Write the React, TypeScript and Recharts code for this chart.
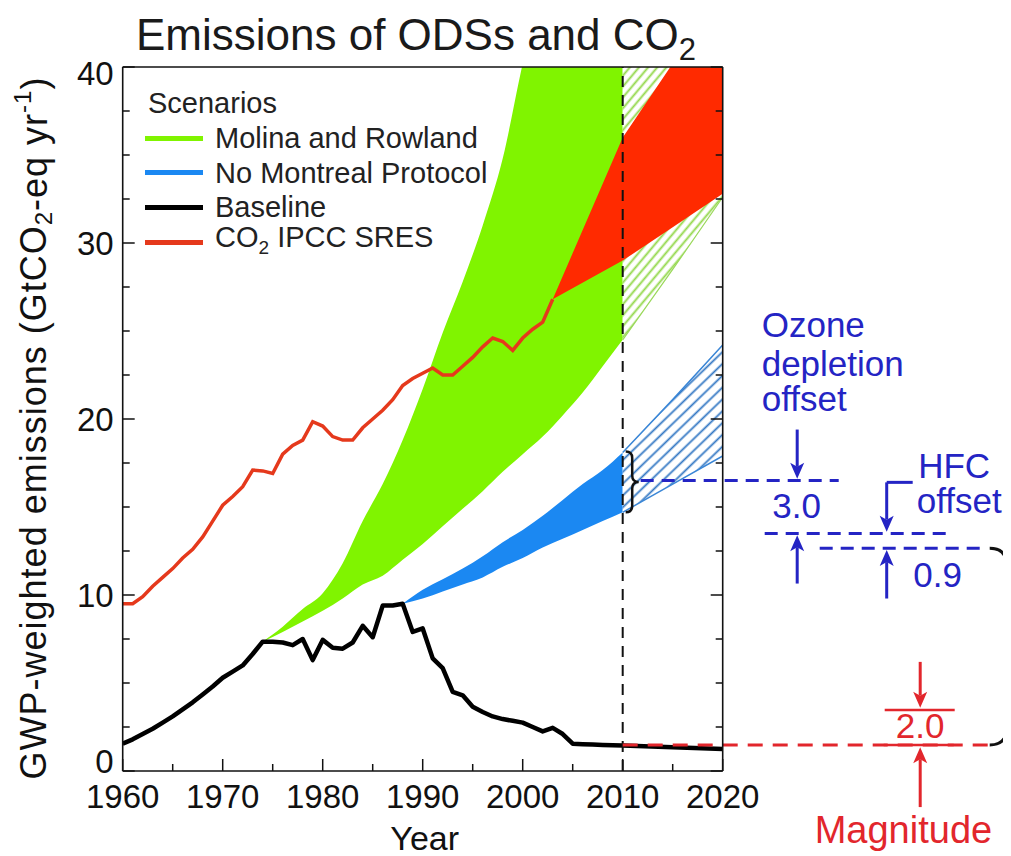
import React from "react";
import {
  ComposedChart,
  Area,
  Line,
  XAxis,
  YAxis,
  ReferenceLine,
  ReferenceDot,
  Legend,
} from "recharts";

const FONT = '"Liberation Sans", Arial, Helvetica, sans-serif';
const GREEN = "#80f400";
const BLUE = "#1b88f2";
const RED_FILL = "#ff2a00";
const RED_LINE = "#e5391c";
const ANNOT_BLUE = "#2424c4";
const ANNOT_RED = "#e2262c";

// baseline ODS emissions, GtCO2-eq per year
const baselineYears = [
  1960, 1961, 1962, 1963, 1964, 1965, 1966, 1967, 1968, 1969,
  1970, 1971, 1972, 1973, 1974, 1975, 1976, 1977, 1978, 1979,
  1980, 1981, 1982, 1983, 1984, 1985, 1986, 1987, 1988, 1989,
  1990, 1991, 1992, 1993, 1994, 1995, 1996, 1997, 1998, 1999,
  2000, 2001, 2002, 2003, 2004, 2005, 2006, 2007, 2008, 2009,
  2010, 2020,
];
const baselineValues = [
  1.55, 1.8, 2.1, 2.4, 2.75, 3.1, 3.5, 3.9, 4.35, 4.8,
  5.3, 5.65, 6.0, 6.65, 7.35, 7.35, 7.3, 7.15, 7.5, 6.3,
  7.45, 7.0, 6.95, 7.3, 8.25, 7.6, 9.4, 9.4, 9.5, 7.9,
  8.1, 6.4, 5.85, 4.5, 4.3, 3.65, 3.35, 3.1, 2.95, 2.85,
  2.75, 2.5, 2.25, 2.45, 2.1, 1.55, 1.52, 1.5, 1.48, 1.46,
  1.45, 1.25,
];

// CO2 emissions (line part)
const co2Years = [
  1960, 1961, 1962, 1963, 1964, 1965, 1966, 1967, 1968, 1969,
  1970, 1971, 1972, 1973, 1974, 1975, 1976, 1977, 1978, 1979,
  1980, 1981, 1982, 1983, 1984, 1985, 1986, 1987, 1988, 1989,
  1990, 1991, 1992, 1993, 1994, 1995, 1996, 1997, 1998, 1999,
  2000, 2001, 2002, 2003,
];
const co2Values = [
  9.5, 9.5, 9.9, 10.5, 11.0, 11.5, 12.1, 12.6, 13.3, 14.2,
  15.1, 15.6, 16.15, 17.1, 17.05, 16.9, 18.0, 18.5, 18.8, 19.85,
  19.6, 19.0, 18.8, 18.8, 19.5, 20.0, 20.5, 21.1, 21.9, 22.3,
  22.6, 22.9, 22.5, 22.5, 23.0, 23.5, 24.1, 24.6, 24.4, 23.9,
  24.6, 25.1, 25.5, 26.8,
];

// IPCC SRES CO2 range
const sresYears = [2003, 2010, 2015, 2020];
const sresLow = [26.8, 29.0, 30.9, 32.8];
const sresHigh = [26.8, 36.0, 40.2, 44.5];

// Molina and Rowland scenario range
const molinaYears = [
  1974, 1976, 1978, 1980, 1982, 1984, 1986, 1988, 1990, 1992,
  1994, 1996, 1998, 2000, 2002, 2004, 2006, 2008, 2010,
];
const molinaLow = [
  7.35, 7.9, 8.5, 9.1, 9.8, 10.6, 11.1, 12.0, 12.9, 13.9,
  14.9, 15.9, 17.0, 18.0, 19.0, 20.2, 21.5, 23.0, 24.5,
];
const molinaHigh = [
  7.35, 8.2, 9.2, 10.1, 11.8, 14.2, 16.3, 18.8, 21.7, 24.9,
  27.8, 31.0, 34.8, 40.2, 45, 50, 56, 62, 68,
];

// No Montreal Protocol scenario range
const noMpYears = [1988, 1990, 1992, 1994, 1996, 1998, 2000, 2002, 2004, 2006, 2008, 2010];
const noMpLow = [9.5, 9.8, 10.2, 10.6, 11.0, 11.6, 12.1, 12.7, 13.2, 13.7, 14.2, 14.7];
const noMpHigh = [9.5, 10.3, 10.9, 11.5, 12.2, 13.0, 13.7, 14.5, 15.4, 16.3, 17.1, 18.1];

// projections after 2010 (hatched)
const projYears = [2010, 2015, 2020];
const molinaProjLow = [24.5, 28.5, 32.6];
const molinaProjHigh = [68, 80, 92];
const noMpProjLow = [14.7, 16.3, 17.9];
const noMpProjHigh = [18.1, 21.1, 24.2];

const xTicks = [1960, 1965, 1970, 1975, 1980, 1985, 1990, 1995, 2000, 2005, 2010, 2015, 2020];
const yTicks = [0, 2.5, 5, 7.5, 10, 12.5, 15, 17.5, 20, 22.5, 25, 27.5, 30, 32.5, 35, 37.5, 40];

const legendItems = [
  { key: "molina", label: "Molina and Rowland", color: GREEN },
  { key: "nomp", label: "No Montreal Protocol", color: BLUE },
  { key: "base", label: "Baseline", color: "#000" },
  { key: "sres", label: "CO2 IPCC SRES", color: RED_LINE },
];

const lineData = (years: number[], values: number[]) =>
  years.map((year, i) => ({ year, value: values[i] }));
const bandData = (years: number[], low: number[], high: number[]) =>
  years.map((year, i) => ({ year, range: [low[i], high[i]] }));

const baselineData = lineData(baselineYears, baselineValues);
const co2Data = lineData(co2Years, co2Values);
const sresData = bandData(sresYears, sresLow, sresHigh);
const molinaData = bandData(molinaYears, molinaLow, molinaHigh);
const noMpData = bandData(noMpYears, noMpLow, noMpHigh);
const molinaProjData = bandData(projYears, molinaProjLow, molinaProjHigh);
const noMpProjData = bandData(projYears, noMpProjLow, noMpProjHigh);

const isMajor = (v: number) => v % 10 === 0;
const tickLen = (v: number) => (isMajor(v) ? 12 : 7);

function BottomTick({ x, y, payload }: any) {
  const v = payload.value;
  return (
    <g>
      <line x1={x} y1={y} x2={x} y2={y - tickLen(v)} stroke="#111" strokeWidth={1.5} />
      {isMajor(v) && (
        <text x={x} y={y + 25} textAnchor="middle" dominantBaseline="central"
          fontSize={33} fontFamily={FONT} fill="#111">{v}</text>
      )}
    </g>
  );
}

function TopTick({ x, y, payload }: any) {
  return <line x1={x} y1={y} x2={x} y2={y + tickLen(payload.value)} stroke="#111" strokeWidth={1.5} />;
}

function LeftTick({ x, y, payload }: any) {
  const v = payload.value;
  const nudge = v === 0 ? -10 : v === 40 ? 6 : 0;
  return (
    <g>
      <line x1={x} y1={y} x2={x + tickLen(v)} y2={y} stroke="#111" strokeWidth={1.5} />
      {isMajor(v) && (
        <text x={x - 9} y={y + nudge} textAnchor="end" dominantBaseline="central"
          fontSize={33} fontFamily={FONT} fill="#111">{v}</text>
      )}
    </g>
  );
}

function RightTick({ x, y, payload }: any) {
  return <line x1={x} y1={y} x2={x - tickLen(payload.value)} y2={y} stroke="#111" strokeWidth={1.5} />;
}

function YLabel(props: any) {
  const vb = props.viewBox || { x: 55, y: 59, width: 60, height: 704 };
  const cx = vb.x - 29;
  const cy = vb.y + vb.height / 2 + 9;
  return (
    <text x={cx} y={cy} transform={`rotate(-90 ${cx} ${cy})`} textAnchor="middle"
      dominantBaseline="central" fontSize={36} letterSpacing={1} fontFamily={FONT} fill="#111">
      GWP-weighted emissions (GtCO
      <tspan dy={9} fontSize={24}>2</tspan>
      <tspan dy={-9}>-eq yr</tspan>
      <tspan dy={-12} fontSize={24}>-1</tspan>
      <tspan dy={12}>)</tspan>
    </text>
  );
}

function XLabel(props: any) {
  const vb = props.viewBox || { x: 115, y: 763, width: 600, height: 60 };
  return (
    <text x={vb.x + vb.width / 2 + 2} y={vb.y + 67} textAnchor="middle" dominantBaseline="central"
      fontSize={34} fontFamily={FONT} fill="#111">Year</text>
  );
}

function LegendBox() {
  return (
    <div style={{ fontFamily: FONT, fontSize: 29, color: "#222", lineHeight: "34.8px" }}>
      <div style={{ height: 34.8, paddingLeft: 3 }}>Scenarios</div>
      {legendItems.map((it) => (
        <div key={it.key} style={{ display: "flex", alignItems: "center", height: 34.8, whiteSpace: "nowrap" }}>
          <span style={{ display: "inline-block", width: 58, height: 5, background: it.color, marginRight: 12 }} />
          {it.key === "sres" ? (
            <span>CO<sub style={{ fontSize: 19 }}>2</sub> IPCC SRES</span>
          ) : (
            it.label
          )}
        </div>
      ))}
    </div>
  );
}

// annotation shapes
const arrow = (color: string) => (p: any) => {
  const { x1, y1, x2, y2 } = p;
  const dir = y2 > y1 ? 1 : -1;
  const base = y2 - dir * 12;
  return (
    <g>
      <line x1={x1} y1={y1} x2={x2} y2={base} stroke={color} strokeWidth={3} />
      <path d={`M${x2},${y2} L${x2 - 7},${base - dir * 4} L${x2},${base} L${x2 + 7},${base - dir * 4} Z`} fill={color} />
    </g>
  );
};

const brace = (w: number, sw: number) => (p: any) => {
  const { x1, y1, y2 } = p;
  const top = Math.min(y1, y2);
  const bot = Math.max(y1, y2);
  const mid = (top + bot) / 2;
  const r = w / 2;
  const d = `M${x1},${top} Q${x1 + r},${top} ${x1 + r},${top + r} L${x1 + r},${mid - r} ` +
    `Q${x1 + r},${mid} ${x1 + w},${mid} Q${x1 + r},${mid} ${x1 + r},${mid + r} ` +
    `L${x1 + r},${bot - r} Q${x1 + r},${bot} ${x1},${bot}`;
  return <path d={d} fill="none" stroke="#111" strokeWidth={sw} />;
};

const label = (text: string, color: string, size: number, anchor = "start") => (p: any) => (
  <text x={p.cx} y={p.cy} fill={color} fontSize={size} fontFamily={FONT} textAnchor={anchor}>{text}</text>
);

const ax = { xAxisId: "b", yAxisId: "l", ifOverflow: "visible" as const };

export default function App() {
  return (
    <div style={{ position: "relative", width: 1003, height: 848, overflow: "hidden", background: "#fff" }}>
      <div style={{ position: "absolute", left: 0, top: 2, width: 816, textAlign: "center",
        fontFamily: FONT, fontSize: 44, lineHeight: "50px", color: "#1a1a1a", zIndex: 2 }}>
        Emissions of ODSs and CO<span style={{ fontSize: 31, position: "relative", top: 10 }}>2</span>
      </div>
      <ComposedChart width={1003} height={848} margin={{ top: 58, right: 287.3, bottom: 25, left: 54.7 }}>
        <defs>
          <pattern id="hatchGreen" patternUnits="userSpaceOnUse" width="7" height="7" patternTransform="rotate(-50)">
            <rect width="7" height="7" fill="#fff" />
            <line x1="0" y1="3.5" x2="7" y2="3.5" stroke="#93d84a" strokeWidth="1.9" />
          </pattern>
          <pattern id="hatchBlue" patternUnits="userSpaceOnUse" width="8.5" height="8.5" patternTransform="rotate(-44)">
            <rect width="8.5" height="8.5" fill="#fff" />
            <line x1="0" y1="4.25" x2="8.5" y2="4.25" stroke="#3478c4" strokeWidth="1.8" />
          </pattern>
        </defs>

        <XAxis xAxisId="b" type="number" dataKey="year" domain={[1960, 2020]} allowDataOverflow
          ticks={xTicks} interval={0} tickSize={0} tickMargin={0} tickLine={false} tick={BottomTick}
          axisLine={{ stroke: "#111", strokeWidth: 1.6 }} height={60} label={XLabel} />
        <XAxis xAxisId="t" orientation="top" type="number" domain={[1960, 2020]} allowDataOverflow
          ticks={xTicks} interval={0} tickSize={0} tickMargin={0} tickLine={false} tick={TopTick}
          axisLine={{ stroke: "#111", strokeWidth: 1.6 }} height={1} />
        <YAxis yAxisId="l" type="number" domain={[0, 40]} allowDataOverflow ticks={yTicks} interval={0}
          tickSize={0} tickMargin={0} tickLine={false} tick={LeftTick}
          axisLine={{ stroke: "#111", strokeWidth: 1.6 }} width={60} label={YLabel} />
        <YAxis yAxisId="r" orientation="right" type="number" domain={[0, 40]} allowDataOverflow ticks={yTicks}
          interval={0} tickSize={0} tickMargin={0} tickLine={false} tick={RightTick}
          axisLine={{ stroke: "#111", strokeWidth: 1.6 }} width={1} />

        <Legend layout="vertical" align="center" verticalAlign="middle" content={LegendBox}
          wrapperStyle={{ left: 137, top: 78, width: "auto", height: "auto" }} />

        <Area xAxisId="b" yAxisId="l" data={molinaData} dataKey="range" type="monotone"
          fill={GREEN} fillOpacity={1} stroke="none" isAnimationActive={false} />
        <Area xAxisId="b" yAxisId="l" data={molinaProjData} dataKey="range" type="linear"
          fill="url(#hatchGreen)" fillOpacity={1} stroke="#9ad85a" strokeWidth={1.2} isAnimationActive={false} />
        <Area xAxisId="b" yAxisId="l" data={sresData} dataKey="range" type="linear"
          fill={RED_FILL} fillOpacity={1} stroke="none" isAnimationActive={false} />
        <Area xAxisId="b" yAxisId="l" data={noMpData} dataKey="range" type="monotone"
          fill={BLUE} fillOpacity={1} stroke="none" isAnimationActive={false} />
        <Area xAxisId="b" yAxisId="l" data={noMpProjData} dataKey="range" type="linear"
          fill="url(#hatchBlue)" fillOpacity={1} stroke="#3a86d6" strokeWidth={1.5} isAnimationActive={false} />
        <Line xAxisId="b" yAxisId="l" data={co2Data} dataKey="value" type="linear" stroke={RED_LINE}
          strokeWidth={3.5} dot={false} activeDot={false} isAnimationActive={false} />
        <Line xAxisId="b" yAxisId="l" data={baselineData} dataKey="value" type="linear" stroke="#000"
          strokeWidth={4.5} strokeLinejoin="round" dot={false} activeDot={false} isAnimationActive={false} />

        <ReferenceLine xAxisId="b" yAxisId="l" x={2010} stroke="#111" strokeWidth={2} strokeDasharray="11 8" />

        {/* ozone depletion offset */}
        <ReferenceLine {...ax} segment={[{ x: 2010.3, y: 18.15 }, { x: 2010.3, y: 14.7 }]} shape={brace(13, 2.5)} />
        <ReferenceLine {...ax} segment={[{ x: 2011.8, y: 16.5 }, { x: 2031.6, y: 16.5 }]}
          stroke={ANNOT_BLUE} strokeWidth={3} strokeDasharray="13 8" />
        <ReferenceLine {...ax} segment={[{ x: 2024.2, y: 13.5 }, { x: 2042.7, y: 13.5 }]}
          stroke={ANNOT_BLUE} strokeWidth={3} strokeDasharray="13 8" />
        <ReferenceLine {...ax} segment={[{ x: 2027.45, y: 19.4 }, { x: 2027.45, y: 16.6 }]} shape={arrow(ANNOT_BLUE)} />
        <ReferenceLine {...ax} segment={[{ x: 2027.45, y: 10.65 }, { x: 2027.45, y: 13.4 }]} shape={arrow(ANNOT_BLUE)} />
        <ReferenceDot {...ax} x={2023.9} y={24.68} shape={label("Ozone", ANNOT_BLUE, 35)} />
        <ReferenceDot {...ax} x={2023.9} y={22.44} shape={label("depletion", ANNOT_BLUE, 35)} />
        <ReferenceDot {...ax} x={2023.9} y={20.47} shape={label("offset", ANNOT_BLUE, 35)} />
        <ReferenceDot {...ax} x={2027.4} y={14.36} shape={label("3.0", ANNOT_BLUE, 35, "middle")} />

        {/* HFC offset */}
        <ReferenceLine {...ax} segment={[{ x: 2029.7, y: 12.65 }, { x: 2046.1, y: 12.65 }]}
          stroke={ANNOT_BLUE} strokeWidth={3} strokeDasharray="13 8" />
        <ReferenceLine {...ax} segment={[{ x: 2036.4, y: 16.4 }, { x: 2039.0, y: 16.4 }]}
          stroke={ANNOT_BLUE} strokeWidth={3} />
        <ReferenceLine {...ax} segment={[{ x: 2036.4, y: 16.4 }, { x: 2036.4, y: 13.6 }]} shape={arrow(ANNOT_BLUE)} />
        <ReferenceLine {...ax} segment={[{ x: 2036.4, y: 9.8 }, { x: 2036.4, y: 12.55 }]} shape={arrow(ANNOT_BLUE)} />
        <ReferenceDot {...ax} x={2039.55} y={16.63} shape={label("HFC", ANNOT_BLUE, 35)} />
        <ReferenceDot {...ax} x={2039.4} y={14.64} shape={label("offset", ANNOT_BLUE, 35)} />
        <ReferenceDot {...ax} x={2039.05} y={10.47} shape={label("0.9", ANNOT_BLUE, 35)} />

        {/* magnitude */}
        <ReferenceLine {...ax} segment={[{ x: 2046.7, y: 12.65 }, { x: 2046.7, y: 1.48 }]} shape={brace(34, 3)} />
        <ReferenceLine {...ax} segment={[{ x: 2010, y: 1.48 }, { x: 2046.6, y: 1.48 }]}
          stroke={ANNOT_RED} strokeWidth={3} strokeDasharray="15 10" />
        <ReferenceLine {...ax} segment={[{ x: 2036.1, y: 1.48 }, { x: 2043.1, y: 1.48 }]}
          stroke={ANNOT_RED} strokeWidth={2.5} />
        <ReferenceLine {...ax} segment={[{ x: 2036.2, y: 3.47 }, { x: 2043.2, y: 3.47 }]}
          stroke={ANNOT_RED} strokeWidth={2.5} />
        <ReferenceLine {...ax} segment={[{ x: 2039.75, y: 6.2 }, { x: 2039.75, y: 3.6 }]} shape={arrow(ANNOT_RED)} />
        <ReferenceLine {...ax} segment={[{ x: 2039.75, y: -2.05 }, { x: 2039.75, y: 1.35 }]} shape={arrow(ANNOT_RED)} />
        <ReferenceDot {...ax} x={2039.75} y={1.86} shape={label("2.0", ANNOT_RED, 35, "middle")} />
        <ReferenceDot {...ax} x={2029.2} y={-4.1} shape={label("Magnitude of", ANNOT_RED, 38)} />
      </ComposedChart>
    </div>
  );
}
